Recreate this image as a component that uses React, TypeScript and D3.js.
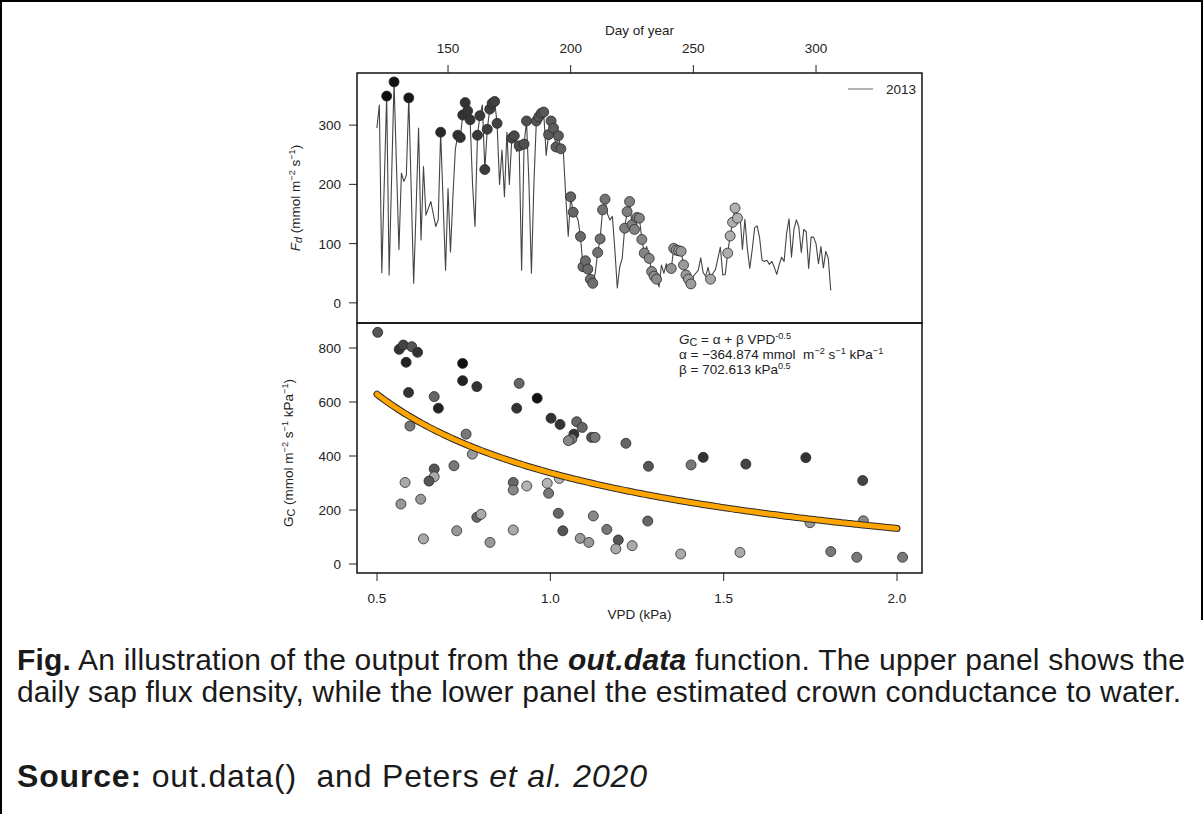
import React, { useEffect, useRef } from "react";
import * as d3 from "d3";

// daily sap flux density (mmol m-2 s-1), first value is day 121
const fluxStartDay = 121;
const fluxValues = [
  295, 334, 51, 200, 349, 47, 210, 373, 230, 90,
  219, 205, 215, 346, 190, 33, 160, 295, 106, 230,
  148, 160, 171, 150, 129, 140, 288, 170, 55, 193,
  86, 180, 260, 283, 279, 317, 338, 324, 309, 200,
  129, 283, 316, 334, 225, 293, 327, 337, 340, 303,
  200, 258, 179, 288, 200, 278, 282, 255, 265, 55,
  268, 307, 200, 50, 200, 307, 314, 320, 322, 249,
  284, 307, 295, 263, 282, 260, 255, 180, 112, 179,
  153, 150, 140, 112, 61, 71, 57, 40, 33, 50,
  85, 108, 157, 175, 150, 140, 146, 90, 25, 61,
  75, 126, 154, 171, 132, 124, 144, 143, 107, 84,
  95, 75, 53, 45, 40, 27, 64, 50, 66, 53,
  58, 92, 89, 88, 87, 64, 47, 40, 32, 45,
  50, 55, 76, 51, 45, 60, 40, 50, 56, 75,
  94, 47, 48, 84, 113, 136, 160, 143, 150, 90,
  141, 92, 58, 90, 127, 130, 110, 72, 70, 72,
  65, 70, 60, 48, 65, 77, 70, 117, 142, 77,
  124, 140, 128, 85, 124, 120, 58, 111, 111, 100,
  66, 95, 59, 87, 75, 21,
];

// days used for the conductance fit (marked by circles)
const circleDays = [
  125, 128, 134, 147, 154, 155, 156, 157, 158, 159, 162, 163, 165, 166, 167,
  168, 169, 170, 176, 177, 179, 181, 182, 186, 187, 188, 189, 191, 192, 193,
  194, 195, 196, 200, 201, 204, 205, 206, 207, 208, 209, 211, 212, 213, 214,
  222, 223, 224, 225, 226, 227, 228, 229, 230, 232, 233, 234, 235, 241, 242,
  243, 244, 245, 246, 247, 248, 249, 257, 264, 265, 266, 267, 268,
];

// crown conductance points
const gcVpd = [
  0.502, 0.564, 0.576, 0.6, 0.617, 0.584, 0.747, 0.747, 0.788, 0.591,
  0.665, 0.677, 0.595, 0.757, 0.775, 0.91, 0.903, 0.962, 1.002, 1.028,
  1.076, 1.092, 1.068, 1.062, 1.052, 1.119, 1.129, 1.218, 1.283, 0.665,
  0.665, 0.65, 0.722, 0.581, 0.569, 0.626, 0.634, 0.788, 0.8, 0.73,
  0.826, 0.893, 0.893, 0.893, 0.932, 0.991, 0.995, 1.026, 1.023, 1.036,
  1.086, 1.111, 1.124, 1.163, 1.196, 1.189, 1.236, 1.281, 1.406, 1.441,
  1.564, 1.737, 1.901, 1.376, 1.547, 1.749, 1.809, 1.884, 1.903, 2.016,
];
const gcValues = [
  858, 795, 811, 805, 784, 747, 743, 679, 657, 635,
  620, 577, 511, 481, 407, 669, 577, 614, 540, 517,
  527, 506, 481, 463, 457, 469, 469, 447, 362, 352,
  323, 307, 364, 302, 222, 240, 93, 173, 184, 123,
  80, 302, 274, 126, 289, 299, 262, 317, 188, 123,
  95, 80, 178, 128, 89, 56, 68, 159, 367, 395,
  370, 394, 309, 37, 43, 153, 46, 25, 160, 25,
];
const gcDays = [
  187, 157, 172, 187, 157, 142, 127, 142, 157, 157,
  202, 142, 217, 217, 246, 202, 157, 127, 157, 157,
  202, 202, 157, 217, 231, 187, 217, 202, 187, 187,
  261, 187, 217, 261, 246, 246, 261, 202, 261, 246,
  246, 202, 231, 261, 270, 270, 217, 270, 202, 187,
  246, 246, 231, 217, 187, 261, 261, 202, 217, 157,
  172, 157, 172, 261, 261, 246, 217, 217, 231, 217,
];

const dayTicks = [150, 200, 250, 300];
const fluxTicks = [0, 100, 200, 300];
const vpdTicks = [0.5, 1.0, 1.5, 2.0];
const gcTicks = [0, 200, 400, 600, 800];
const fitAlpha = -364.874;
const fitBeta = 702.613;
const legendLabel = "2013";

const FONT = "'Liberation Sans', Arial, Helvetica, sans-serif";

type Part = [string, string?, boolean?];

function App() {
  const svgRef: any = useRef(null);

  useEffect(() => {
    draw();
  }, []);

  const rich = (t: any, parts: Part[], size: number) => {
    parts.forEach(([s, kind, it]) => {
      const sp = t.append("tspan").text(s);
      if (it) sp.attr("font-style", "italic");
      if (kind === "sup") sp.attr("baseline-shift", size * 0.36).attr("font-size", size * 0.68);
      if (kind === "sub") sp.attr("baseline-shift", -size * 0.15).attr("font-size", size * 0.8);
    });
  };

  const draw = () => {
    const svg = d3.select(svgRef.current);
    svg.selectAll("*").remove();

    const left = 357;
    const right = 922;
    const topY = 73;
    const midY = 323;
    const botY = 573;
    const fs = 13.5;

    // scales
    const xDay = d3.scaleLinear().domain([112.9, 343.2]).range([left, right]);
    const yFlux = d3.scaleLinear().domain([-34, 388]).range([midY, topY]);
    const xVpd = d3.scaleLinear().domain([0.4423, 2.0721]).range([left, right]);
    const yGc = d3.scaleLinear().domain([-33.3, 892.6]).range([botY, midY]);
    const shade = d3
      .scaleLinear<string>()
      .domain([121, 270])
      .range(["#0a0a0a", "#b4b4b4"])
      .clamp(true);

    svg.append("rect").attr("width", 1204).attr("height", 814).attr("fill", "#fff");

    // outer frame
    svg
      .append("path")
      .attr("d", "M1,814 L1,1 L1202,1 L1202,620")
      .attr("fill", "none")
      .attr("stroke", "#000")
      .attr("stroke-width", 2);

    const g = svg.append("g").attr("font-family", FONT).attr("fill", "#222");

    // ---- top panel ----
    const flux = fluxValues.map((v, i) => ({ day: fluxStartDay + i, v }));
    const line = d3
      .line<any>()
      .x((d) => xDay(d.day))
      .y((d) => yFlux(d.v));
    g.append("path")
      .datum(flux)
      .attr("d", line)
      .attr("fill", "none")
      .attr("stroke", "#444")
      .attr("stroke-width", 1.1)
      .attr("stroke-linejoin", "round");

    g.selectAll(".fc")
      .data(circleDays)
      .enter()
      .append("circle")
      .attr("cx", (d) => xDay(d))
      .attr("cy", (d) => yFlux(fluxValues[d - fluxStartDay]))
      .attr("r", 5)
      .attr("fill", (d) => shade(d))
      .attr("stroke", "#2a2a2a")
      .attr("stroke-width", 0.8);

    // top x axis (day of year)
    const ax = g.append("g").attr("font-size", fs).attr("text-anchor", "middle");
    dayTicks.forEach((d) => {
      ax.append("line")
        .attr("x1", xDay(d)).attr("x2", xDay(d))
        .attr("y1", topY).attr("y2", topY - 8)
        .attr("stroke", "#222").attr("stroke-width", 1);
      ax.append("text").attr("x", xDay(d)).attr("y", topY - 20).text(d);
    });
    g.append("text")
      .attr("x", (left + right) / 2)
      .attr("y", 35)
      .attr("text-anchor", "middle")
      .attr("font-size", fs)
      .text("Day of year");

    // left axis top
    const ay = g.append("g").attr("font-size", fs).attr("text-anchor", "end");
    fluxTicks.forEach((d) => {
      ay.append("line")
        .attr("x1", left).attr("x2", left - 8)
        .attr("y1", yFlux(d)).attr("y2", yFlux(d))
        .attr("stroke", "#222").attr("stroke-width", 1);
      ay.append("text").attr("x", left - 16).attr("y", yFlux(d) + 5).text(d);
    });
    const t1 = g
      .append("text")
      .attr("transform", `translate(300, ${(topY + midY) / 2}) rotate(-90)`)
      .attr("text-anchor", "middle")
      .attr("font-size", fs);
    rich(
      t1,
      [["F", "", true], ["d", "sub", true], [" (mmol m"], ["\u22122", "sup"], [" s"], ["\u22121", "sup"], [")"]],
      fs
    );

    // legend
    g.append("line")
      .attr("x1", 848).attr("x2", 873)
      .attr("y1", 89).attr("y2", 89)
      .attr("stroke", "#8a8a8a").attr("stroke-width", 1.3);
    g.append("text").attr("x", 886).attr("y", 94).attr("font-size", fs).text(legendLabel);

    // ---- bottom panel ----
    const fit = d3.range(0.5, 2.0001, 0.01).map((v) => ({ v, g: fitAlpha + fitBeta * Math.pow(v, -0.5) }));
    const fitLine = d3
      .line<any>()
      .x((d) => xVpd(d.v))
      .y((d) => yGc(d.g))
      .curve(d3.curveMonotoneX);

    g.selectAll(".gc")
      .data(gcVpd)
      .enter()
      .append("circle")
      .attr("cx", (d) => xVpd(d))
      .attr("cy", (_d, i) => yGc(gcValues[i]))
      .attr("r", 5)
      .attr("fill", (_d, i) => shade(gcDays[i]))
      .attr("stroke", "#2a2a2a")
      .attr("stroke-width", 0.8);

    g.append("path")
      .datum(fit)
      .attr("d", fitLine)
      .attr("fill", "none")
      .attr("stroke", "#2b2b2b")
      .attr("stroke-width", 7)
      .attr("stroke-linecap", "round");
    g.append("path")
      .datum(fit)
      .attr("d", fitLine)
      .attr("fill", "none")
      .attr("stroke", "#FFA500")
      .attr("stroke-width", 5)
      .attr("stroke-linecap", "round");

    // bottom x axis
    const bx = g.append("g").attr("font-size", fs).attr("text-anchor", "middle");
    vpdTicks.forEach((d) => {
      bx.append("line")
        .attr("x1", xVpd(d)).attr("x2", xVpd(d))
        .attr("y1", botY).attr("y2", botY + 8)
        .attr("stroke", "#222").attr("stroke-width", 1);
      bx.append("text").attr("x", xVpd(d)).attr("y", botY + 30).text(d.toFixed(1));
    });
    g.append("text")
      .attr("x", (left + right) / 2)
      .attr("y", 619)
      .attr("text-anchor", "middle")
      .attr("font-size", fs)
      .text("VPD (kPa)");

    const by = g.append("g").attr("font-size", fs).attr("text-anchor", "end");
    gcTicks.forEach((d) => {
      by.append("line")
        .attr("x1", left).attr("x2", left - 8)
        .attr("y1", yGc(d)).attr("y2", yGc(d))
        .attr("stroke", "#222").attr("stroke-width", 1);
      by.append("text").attr("x", left - 16).attr("y", yGc(d) + 5).text(d);
    });
    const t2 = g
      .append("text")
      .attr("transform", `translate(293, ${(midY + botY) / 2 + 5}) rotate(-90)`)
      .attr("text-anchor", "middle")
      .attr("font-size", fs);
    rich(
      t2,
      [["G"], ["C", "sub"], [" (mmol m"], ["\u22122", "sup"], [" s"], ["\u22121", "sup"], [" kPa"], ["\u22121", "sup"], [")"]],
      fs
    );

    // fit annotation
    const an = 13.5;
    const a1 = g.append("text").attr("x", 679).attr("y", 344).attr("font-size", an);
    rich(a1, [["G", "", true], ["C", "sub"], [" = \u03b1 + \u03b2 VPD"], ["-0.5", "sup"]], an);
    const a2 = g.append("text").attr("x", 679).attr("y", 359).attr("font-size", an);
    rich(
      a2,
      [["\u03b1 = \u2212364.874 mmol\u00a0 m"], ["\u22122", "sup"], [" s"], ["\u22121", "sup"], [" kPa"], ["\u22121", "sup"]],
      an
    );
    const a3 = g.append("text").attr("x", 679).attr("y", 374).attr("font-size", an);
    rich(a3, [["\u03b2 = 702.613 kPa"], ["0.5", "sup"]], an);

    // panel boxes
    g.append("rect")
      .attr("x", left).attr("y", topY)
      .attr("width", right - left).attr("height", midY - topY)
      .attr("fill", "none").attr("stroke", "#111").attr("stroke-width", 1.5);
    g.append("rect")
      .attr("x", left).attr("y", midY)
      .attr("width", right - left).attr("height", botY - midY)
      .attr("fill", "none").attr("stroke", "#111").attr("stroke-width", 1.5);

    // caption
    const cap = svg.append("g").attr("font-family", FONT).attr("font-size", 30).attr("fill", "#1a1a1a");
    const c1 = cap.append("text").attr("x", 17).attr("y", 670).attr("textLength", 1168).attr("lengthAdjust", "spacing");
    c1.append("tspan").attr("font-weight", "bold").text("Fig.");
    c1.append("tspan").text(" An illustration of the output from the ");
    c1.append("tspan").attr("font-weight", "bold").attr("font-style", "italic").text("out.data");
    c1.append("tspan").text(" function. The upper panel shows the");
    cap.append("text")
      .attr("x", 17)
      .attr("y", 702)
      .attr("textLength", 1164)
      .attr("lengthAdjust", "spacing")
      .text("daily sap flux density, while the lower panel the estimated crown conductance to water.");
    const c3 = cap.append("text").attr("x", 17).attr("y", 787).attr("font-size", 32).attr("textLength", 630).attr("lengthAdjust", "spacing");
    c3.append("tspan").attr("font-weight", "bold").text("Source:");
    c3.append("tspan").text(" out.data()\u00a0 and Peters ");
    c3.append("tspan").attr("font-style", "italic").text("et al. 2020");
  };

  return (
    <div>
      <svg
        ref={svgRef}
        width={1204}
        height={814}
        style={{ position: "absolute", left: 0, top: 0, display: "block" }}
      />
    </div>
  );
}

export default App;
